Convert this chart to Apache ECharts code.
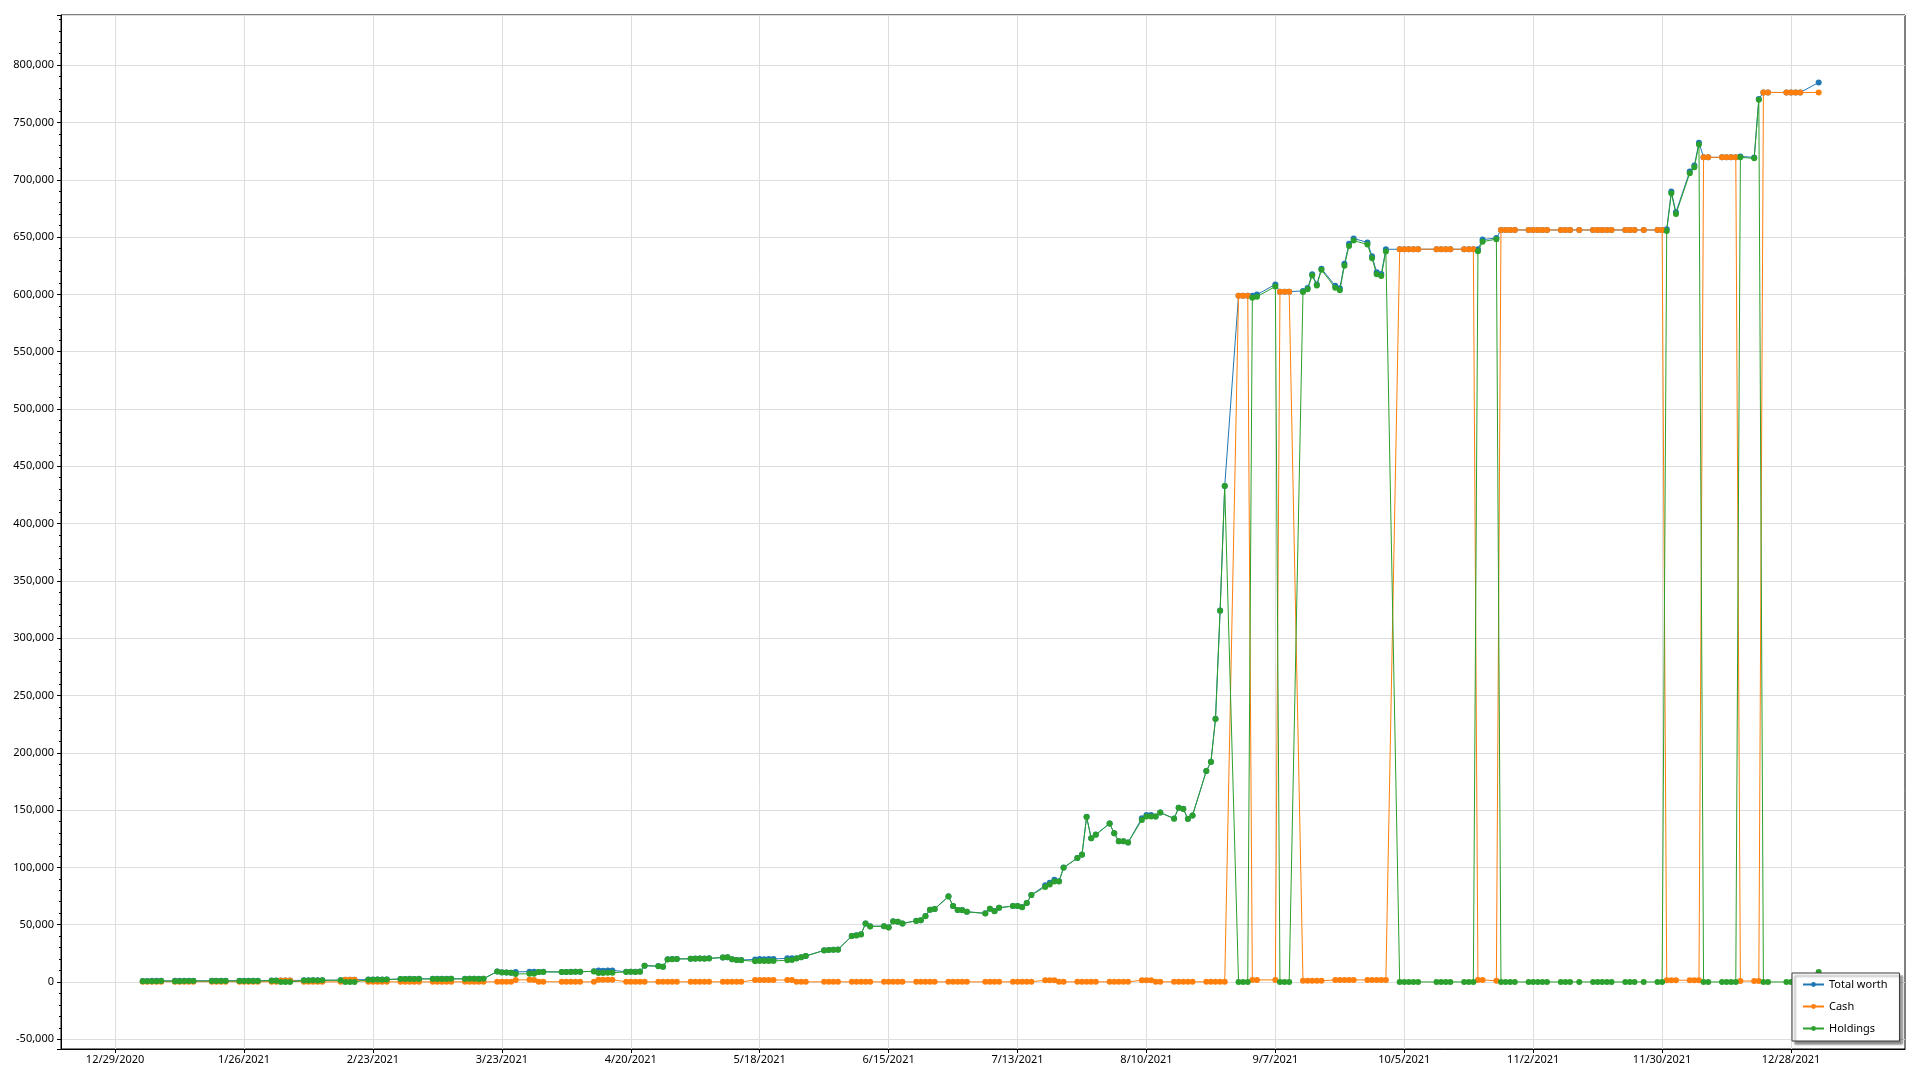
<!DOCTYPE html>
<html>
<head>
<meta charset="utf-8">
<script src="https://cdn.jsdelivr.net/npm/echarts@6/dist/echarts.min.js"></script>
<style>
html,body{margin:0;padding:0;background:#fff;}
#chart{width:1920px;height:1080px;}
</style>
</head>
<body>
<div id="chart"></div>
<script>
// ---- data (trading days) ----
const dates = [
 '2021-01-04','2021-01-05','2021-01-06','2021-01-07','2021-01-08',
 '2021-01-11','2021-01-12','2021-01-13','2021-01-14','2021-01-15',
 '2021-01-19','2021-01-20','2021-01-21','2021-01-22',
 '2021-01-25','2021-01-26','2021-01-27','2021-01-28','2021-01-29',
 '2021-02-01','2021-02-02','2021-02-03','2021-02-04','2021-02-05',
 '2021-02-08','2021-02-09','2021-02-10','2021-02-11','2021-02-12',
 '2021-02-16','2021-02-17','2021-02-18','2021-02-19',
 '2021-02-22','2021-02-23','2021-02-24','2021-02-25','2021-02-26',
 '2021-03-01','2021-03-02','2021-03-03','2021-03-04','2021-03-05',
 '2021-03-08','2021-03-09','2021-03-10','2021-03-11','2021-03-12',
 '2021-03-15','2021-03-16','2021-03-17','2021-03-18','2021-03-19',
 '2021-03-22','2021-03-23','2021-03-24','2021-03-25','2021-03-26',
 '2021-03-29','2021-03-30','2021-03-31','2021-04-01',
 '2021-04-05','2021-04-06','2021-04-07','2021-04-08','2021-04-09',
 '2021-04-12','2021-04-13','2021-04-14','2021-04-15','2021-04-16',
 '2021-04-19','2021-04-20','2021-04-21','2021-04-22','2021-04-23',
 '2021-04-26','2021-04-27','2021-04-28','2021-04-29','2021-04-30',
 '2021-05-03','2021-05-04','2021-05-05','2021-05-06','2021-05-07',
 '2021-05-10','2021-05-11','2021-05-12','2021-05-13','2021-05-14',
 '2021-05-17','2021-05-18','2021-05-19','2021-05-20','2021-05-21',
 '2021-05-24','2021-05-25','2021-05-26','2021-05-27','2021-05-28',
 '2021-06-01','2021-06-02','2021-06-03','2021-06-04',
 '2021-06-07','2021-06-08','2021-06-09','2021-06-10','2021-06-11',
 '2021-06-14','2021-06-15','2021-06-16','2021-06-17','2021-06-18',
 '2021-06-21','2021-06-22','2021-06-23','2021-06-24','2021-06-25',
 '2021-06-28','2021-06-29','2021-06-30','2021-07-01','2021-07-02',
 '2021-07-06','2021-07-07','2021-07-08','2021-07-09',
 '2021-07-12','2021-07-13','2021-07-14','2021-07-15','2021-07-16',
 '2021-07-19','2021-07-20','2021-07-21','2021-07-22','2021-07-23',
 '2021-07-26','2021-07-27','2021-07-28','2021-07-29','2021-07-30',
 '2021-08-02','2021-08-03','2021-08-04','2021-08-05','2021-08-06',
 '2021-08-09','2021-08-10','2021-08-11','2021-08-12','2021-08-13',
 '2021-08-16','2021-08-17','2021-08-18','2021-08-19','2021-08-20',
 '2021-08-23','2021-08-24','2021-08-25','2021-08-26','2021-08-27',
 '2021-08-30','2021-08-31','2021-09-01','2021-09-02','2021-09-03',
 '2021-09-07','2021-09-08','2021-09-09','2021-09-10',
 '2021-09-13','2021-09-14','2021-09-15','2021-09-16','2021-09-17',
 '2021-09-20','2021-09-21','2021-09-22','2021-09-23','2021-09-24',
 '2021-09-27','2021-09-28','2021-09-29','2021-09-30','2021-10-01',
 '2021-10-04','2021-10-05','2021-10-06','2021-10-07','2021-10-08',
 '2021-10-12','2021-10-13','2021-10-14','2021-10-15',
 '2021-10-18','2021-10-19','2021-10-20','2021-10-21','2021-10-22',
 '2021-10-25','2021-10-26','2021-10-27','2021-10-28','2021-10-29',
 '2021-11-01','2021-11-02','2021-11-03','2021-11-04','2021-11-05',
 '2021-11-08','2021-11-09','2021-11-10','2021-11-12',
 '2021-11-15','2021-11-16','2021-11-17','2021-11-18','2021-11-19',
 '2021-11-22','2021-11-23','2021-11-24','2021-11-26',
 '2021-11-29','2021-11-30','2021-12-01','2021-12-02','2021-12-03',
 '2021-12-06','2021-12-07','2021-12-08','2021-12-09','2021-12-10',
 '2021-12-13','2021-12-14','2021-12-15','2021-12-16','2021-12-17',
 '2021-12-20','2021-12-21','2021-12-22','2021-12-23',
 '2021-12-27','2021-12-28','2021-12-29','2021-12-30',
 '2022-01-03'
];

const totalWorth = [
 900,930,970,950,980,
 970,950,990,1010,1000,
 1030,1010,1050,1040,
 1070,1100,1050,1080,1110,
 1250,1300,1300,1300,1300,
 1400,1450,1500,1480,1520,
 1600,1900,1950,1950,
 2050,2100,2150,2100,2200,
 2600,2650,2700,2680,2720,
 2700,2750,2720,2780,2800,
 2750,2800,2820,2780,2800,
 9200,8400,8300,8100,8800,
 9000,9000,8800,9000,
 8700,8800,8900,9000,9000,
 9300,9900,9800,10000,10100,
 8900,9000,8900,9100,14200,
 13900,13300,19800,20000,20100,
 20300,20400,20500,20400,20600,
 21400,21600,19900,19200,19100,
 19700,20000,19900,20100,20000,
 20700,20800,20600,21600,22700,
 27600,27900,28100,28300,
 40100,40700,41600,51100,48600,
 48700,47700,52900,52600,51100,
 53400,53900,57500,63100,63700,
 74700,66300,62800,62700,61300,
 59900,63900,61900,64800,
 66300,66300,65400,68900,75900,
 84300,86600,89200,87800,99800,
 108200,111200,144100,125400,128600,
 138300,129800,122800,122800,121700,
 142900,145800,145800,144400,147900,
 142600,152100,151100,142400,145300,
 184100,192100,229600,324100,432800,
 598900,598900,598900,598800,599800,
 608700,602400,602400,602400,
 603000,605500,617500,608700,622400,
 607600,605400,626800,644100,648800,
 645300,633300,619300,617800,639300,
 639400,639400,639400,639400,639400,
 639400,639400,639400,639400,
 639400,639400,639400,639400,647800,
 649200,656200,656200,656200,656200,
 656200,656200,656200,656200,656200,
 656200,656200,656200,656200,
 656200,656200,656200,656200,656200,
 656200,656200,656200,656200,
 656200,656200,656900,689700,671700,
 707200,712400,732400,719600,719600,
 719600,719600,719600,719600,720400,
 719500,770600,776200,776200,
 776200,776200,776200,776200,
 784900
];

const cash = [
 250,250,250,250,250,
 250,250,250,250,250,
 250,250,250,250,
 250,250,250,250,250,
 150,150,1300,1300,1300,
 100,100,100,100,100,
 100,1900,1950,1950,
 100,100,100,100,100,
 100,100,100,100,100,
 100,100,100,100,100,
 100,100,100,100,100,
 100,100,100,100,1800,
 1900,1800,200,200,
 100,100,100,100,100,
 100,2000,2000,2000,2000,
 100,100,100,100,100,
 100,100,100,100,100,
 100,100,100,100,100,
 100,100,100,100,100,
 1700,1700,1700,1700,1700,
 1700,1700,100,100,100,
 100,100,100,100,
 100,100,100,100,100,
 100,100,100,100,100,
 100,100,100,100,100,
 100,100,100,100,100,
 100,100,100,100,
 100,100,100,100,100,
 1500,1500,1500,100,100,
 100,100,100,100,100,
 100,100,100,100,100,
 1500,1500,1500,100,100,
 100,100,100,100,100,
 100,100,100,100,100,
 598900,598900,598900,1800,1800,
 1800,602400,602400,602400,
 1000,1000,1000,1000,1000,
 1800,1800,1800,1800,1800,
 1800,1800,1800,1800,1800,
 639400,639400,639400,639400,639400,
 639400,639400,639400,639400,
 639400,639400,639400,1800,1800,
 1000,656200,656200,656200,656200,
 656200,656200,656200,656200,656200,
 656200,656200,656200,656200,
 656200,656200,656200,656200,656200,
 656200,656200,656200,656200,
 656200,656200,1500,1500,1500,
 1500,1500,1500,719600,719600,
 719600,719600,719600,719600,800,
 800,800,776200,776200,
 776200,776200,776200,776200,
 776200
];

const holdings = [
 650,680,720,700,730,
 720,700,740,760,750,
 780,760,800,790,
 820,850,800,830,860,
 1100,1150,0,0,0,
 1300,1350,1400,1380,1420,
 1500,0,0,0,
 1950,2000,2050,2000,2100,
 2500,2550,2600,2580,2620,
 2600,2650,2620,2680,2700,
 2650,2700,2720,2680,2700,
 9100,8300,8200,8000,7000,
 7100,7200,8600,8800,
 8600,8700,8800,8900,8900,
 9200,7900,7800,8000,8100,
 8800,8900,8800,9000,14100,
 13800,13200,19700,19900,20000,
 20200,20300,20400,20300,20500,
 21300,21500,19800,19100,19000,
 18000,18300,18200,18400,18300,
 19000,19100,20500,21500,22600,
 27500,27800,28000,28200,
 40000,40600,41500,51000,48500,
 48600,47600,52800,52500,51000,
 53300,53800,57400,63000,63600,
 74600,66200,62700,62600,61200,
 59800,63800,61800,64700,
 66200,66200,65300,68800,75800,
 82800,85100,87700,87700,99700,
 108100,111100,144000,125300,128500,
 138200,129700,122700,122700,121600,
 141400,144300,144300,144300,147800,
 142500,152000,151000,142300,145200,
 184000,192000,229500,324000,432700,
 0,0,0,597000,598000,
 606900,0,0,0,
 602000,604500,616500,607700,621400,
 605800,603600,625000,642300,647000,
 643500,631500,617500,616000,637500,
 0,0,0,0,0,
 0,0,0,0,
 0,0,0,637600,646000,
 648200,0,0,0,0,
 0,0,0,0,0,
 0,0,0,0,
 0,0,0,0,0,
 0,0,0,0,
 0,0,655400,688200,670200,
 705700,710900,730900,0,0,
 0,0,0,0,719600,
 718700,769800,0,0,
 0,0,0,0,
 8700
];

const tickDates = ['2020-12-29','2021-01-26','2021-02-23','2021-03-23','2021-04-20','2021-05-18',
 '2021-06-15','2021-07-13','2021-08-10','2021-09-07','2021-10-05','2021-11-02','2021-11-30','2021-12-28'];

const seriesNames = ['Total worth','Cash','Holdings'];
const seriesColors = ['#1f77b4','#ff7f0e','#2ca02c'];

// ---- helpers ----
function ts(s){ const p = s.split('-').map(Number); return Date.UTC(p[0], p[1]-1, p[2]); }
function fmtDate(v){ const d = new Date(v); return (d.getUTCMonth()+1) + '/' + d.getUTCDate() + '/' + d.getUTCFullYear(); }
function fmtNum(v){ return Math.round(v).toLocaleString('en-US'); }

const xMin = Date.UTC(2020, 11, 17, 6);
const xMax = Date.UTC(2022, 0, 21, 18);
const yMin = -58500;
const yMax = 843800;

const FONT = "'Segoe UI', 'Noto Sans', sans-serif";

const seriesValues = [totalWorth, cash, holdings];
const series = seriesValues.map((vals, k) => ({
  name: seriesNames[k],
  type: 'line',
  data: dates.map((d, i) => [ts(d), vals[i]]),
  symbol: 'circle',
  symbolSize: 6,
  showSymbol: true,
  color: seriesColors[k],
  lineStyle: { width: 1, color: seriesColors[k] },
  itemStyle: { color: seriesColors[k], borderWidth: 0 },
  emphasis: { disabled: true },
  animation: false,
  z: 2 + k
}));

const chart = echarts.init(document.getElementById('chart'), null, { renderer: 'canvas' });
chart.setOption({
  animation: false,
  backgroundColor: '#ffffff',
  textStyle: { fontFamily: FONT },
  grid: {
    left: 61, top: 15, width: 1844, height: 1034,
    show: true, borderColor: '#000', borderWidth: 1, backgroundColor: 'transparent',
    containLabel: false, outerBoundsMode: 'none'
  },
  legend: {
    show: true,
    data: seriesNames,
    orient: 'vertical',
    left: 1792, top: 973,
    padding: [5, 12, 6, 10],
    itemGap: 9,
    itemWidth: 21,
    itemHeight: 6,
    backgroundColor: '#ffffff',
    borderColor: '#3a3a3a',
    borderWidth: 1,
    borderRadius: 0,
    shadowColor: 'rgba(0,0,0,0.45)',
    shadowBlur: 2,
    shadowOffsetX: 3,
    shadowOffsetY: 3,
    selectedMode: false,
    textStyle: { fontFamily: FONT, fontSize: 11, color: '#000', lineHeight: 13 },
    z: 10
  },
  xAxis: {
    type: 'value',
    min: xMin, max: xMax,
    axisLine: { show: true, onZero: false, lineStyle: { color: '#000', width: 1 } },
    axisTick: { show: true, length: 4, inside: false, lineStyle: { color: '#000' }, customValues: tickDates.map(ts) },
    axisLabel: { show: true, margin: 5, fontFamily: FONT, fontSize: 11, color: '#000',
                 customValues: tickDates.map(ts), formatter: v => fmtDate(v), showMinLabel: true, showMaxLabel: true },
    splitLine: { show: true, lineStyle: { color: '#dedede', width: 1 } },
    minorTick: { show: false }
  },
  yAxis: {
    type: 'value',
    min: yMin, max: yMax,
    splitNumber: 18,
    axisLine: { show: true, onZero: false, lineStyle: { color: '#000', width: 1 } },
    axisTick: { show: true, length: 4, inside: false, lineStyle: { color: '#000' } },
    minorTick: { show: true, splitNumber: 5, length: 2, lineStyle: { color: '#000' } },
    axisLabel: { show: true, margin: 7, fontFamily: FONT, fontSize: 11, color: '#000',
                 formatter: v => (Math.abs(Math.round(v) % 50000) === 0 ? fmtNum(v) : '') },
    splitLine: { show: true, lineStyle: { color: '#dedede', width: 1 } }
  },
  tooltip: { show: false },
  series: series
});
</script>
</body>
</html>
